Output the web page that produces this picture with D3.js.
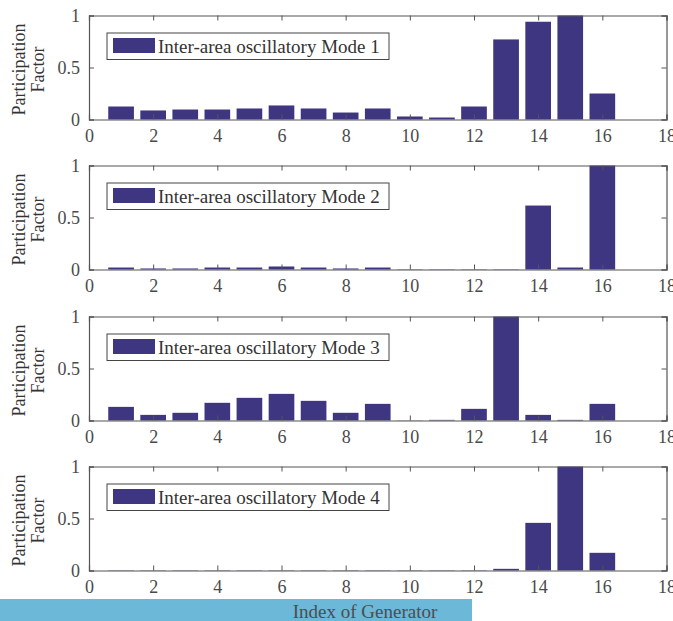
<!DOCTYPE html>
<html>
<head>
<meta charset="utf-8">
<script src="https://cdn.jsdelivr.net/npm/d3@7"></script>
<style>
  html, body { margin: 0; padding: 0; background: #fff; }
  svg { display: block; }
  text { font-family: "Liberation Serif", "Times New Roman", serif; }
</style>
</head>
<body>
<svg id="chart" width="673" height="621"></svg>
<script>
// Generator indices 1..17
const generators = d3.range(1, 18);

// Participation factors of each inter-area mode
const mode1 = [0.125, 0.087, 0.096, 0.096, 0.106, 0.135, 0.106, 0.067, 0.106, 0.029, 0.019, 0.125, 0.77, 0.94, 1.0, 0.25, 0];
const mode2 = [0.019, 0.010, 0.010, 0.019, 0.019, 0.029, 0.019, 0.010, 0.019, 0.003, 0.003, 0.003, 0.003, 0.615, 0.019, 1.0, 0];
const mode3 = [0.131, 0.054, 0.074, 0.170, 0.218, 0.256, 0.189, 0.074, 0.160, 0.002, 0.006, 0.112, 1.0, 0.054, 0.006, 0.160, 0];
const mode4 = [0.003, 0.003, 0.003, 0.003, 0.003, 0.003, 0.003, 0.003, 0.003, 0.003, 0.003, 0.003, 0.016, 0.458, 1.0, 0.170, 0];

const modeNames = ["Inter-area oscillatory Mode 1", "Inter-area oscillatory Mode 2",
                   "Inter-area oscillatory Mode 3", "Inter-area oscillatory Mode 4"];
const modes = [mode1, mode2, mode3, mode4];

const xTicks = [0, 2, 4, 6, 8, 10, 12, 14, 16, 18];
const yTicks = [0, 0.5, 1];
const yLabelLines = ["Participation", "Factor"];
const xLabel = "Index of Generator";

const barColor = "#3e3681";
const axisColor = "#555555";
const textColor = "#4a4a4a";
const serif = '"Liberation Serif", "Times New Roman", serif';

const svg = d3.select("#chart");

const left = 89, right = 666.5;
const panelTops = [15.5, 165.5, 316.5, 466.5];
const panelH = 104;

const x = d3.scaleLinear().domain([0, 18]).range([left, right]);
const barW = (x(0.8) - x(0));

modes.forEach((values, i) => {
  const top = panelTops[i];
  const y = d3.scaleLinear().domain([0, 1]).range([top + panelH, top]);
  const g = svg.append("g");

  // bars
  g.selectAll("rect.bar")
    .data(values.map((v, k) => ({ gen: generators[k], v })))
    .enter().append("rect")
    .attr("class", "bar")
    .attr("x", d => x(d.gen) - barW / 2)
    .attr("width", barW)
    .attr("y", d => y(d.v))
    .attr("height", d => y(0) - y(d.v))
    .attr("fill", barColor);

  // bottom axis (ticks pointing inward)
  const xb = g.append("g")
    .attr("transform", `translate(0,${top + panelH})`)
    .call(d3.axisBottom(x).tickValues(xTicks).tickSize(-5).tickPadding(9).tickFormat(d3.format("d")));
  // top axis ticks only
  const xt = g.append("g")
    .attr("transform", `translate(0,${top})`)
    .call(d3.axisTop(x).tickValues(xTicks).tickSize(-5).tickFormat(""));
  // left axis
  const yl = g.append("g")
    .attr("transform", `translate(${left},0)`)
    .call(d3.axisLeft(y).tickValues(yTicks).tickSize(-5).tickPadding(9).tickFormat(d => d === 0.5 ? "0.5" : d3.format("d")(d)));
  // right axis ticks only
  const yr = g.append("g")
    .attr("transform", `translate(${right},0)`)
    .call(d3.axisRight(y).tickValues(yTicks).tickSize(-5).tickFormat(""));

  [xb, xt, yl, yr].forEach(a => {
    a.select(".domain").attr("stroke", axisColor).attr("stroke-width", 1.2);
    a.selectAll(".tick line").attr("stroke", axisColor).attr("stroke-width", 1);
    a.selectAll(".tick text")
      .attr("fill", textColor)
      .style("font-family", serif)
      .style("font-size", "18px");
  });
  xb.selectAll(".tick text").attr("dy", "0.75em");
  yl.selectAll(".tick text").attr("dy", "0.32em");

  // legend
  const lx = 107, ly = top + 17.5;
  g.append("rect")
    .attr("x", lx).attr("y", ly).attr("width", 282).attr("height", 26.5)
    .attr("fill", "#fff").attr("stroke", "#444").attr("stroke-width", 1);
  g.append("rect")
    .attr("x", lx + 6).attr("y", ly + 5).attr("width", 42).attr("height", 15)
    .attr("fill", barColor);
  g.append("text")
    .attr("x", lx + 51).attr("y", ly + 19.5)
    .attr("fill", "#333")
    .style("font-size", "19px")
    .text(modeNames[i]);

  // y label (two lines)
  const midY = top + panelH / 2 + 2;
  yLabelLines.forEach((line, j) => {
    g.append("text")
      .attr("transform", `translate(${25 + j * 19},${midY}) rotate(-90)`)
      .attr("text-anchor", "middle")
      .attr("fill", "#333")
      .style("font-size", "18px")
      .text(line);
  });
});

// x-axis title band
svg.append("rect")
  .attr("x", 0).attr("y", 599).attr("width", 472).attr("height", 22)
  .attr("fill", "#6cb8d9");
svg.append("text")
  .attr("x", 365).attr("y", 617.5)
  .attr("text-anchor", "middle")
  .attr("fill", "#4d4d4d")
  .style("font-size", "19px")
  .text(xLabel);
</script>
</body>
</html>
